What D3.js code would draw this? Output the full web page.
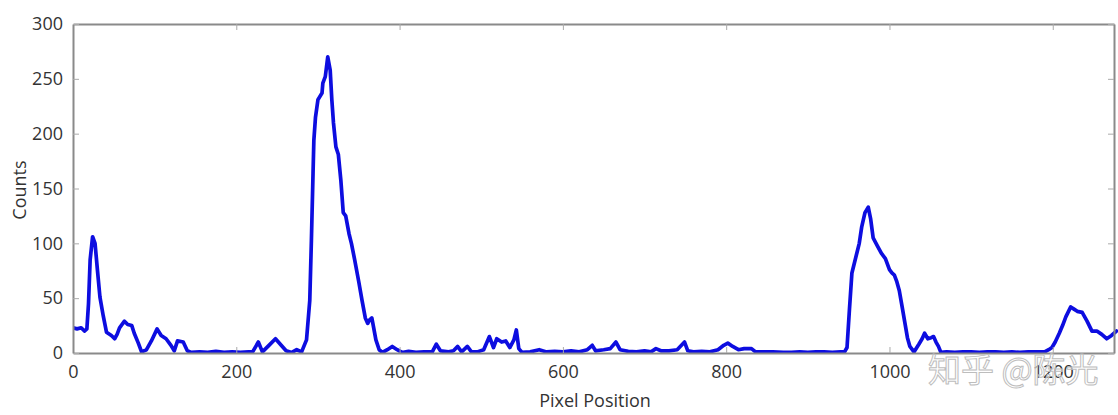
<!DOCTYPE html>
<html>
<head>
<meta charset="utf-8">
<script src="https://cdn.jsdelivr.net/npm/d3@7"></script>
<style>
  html, body { margin: 0; padding: 0; background: #fff; }
  svg { display: block; }
</style>
</head>
<body>
<svg id="chart" width="1118" height="415"></svg>
<script>
const positions = [0,5,10,14,17,19,21,24,27,30,33,37,41,47,51,54,57,63,67,72,75,80,84,90,96,103,108,114,120,124,128,135,140,145,155,165,175,185,195,205,215,220,227,232,240,248,255,261,268,274,280,286,290,292,294,295,297,300,305,306,309,312,315,317,319,322,325,328,331,334,338,341,345,350,354,358,361,363,366,368,371,375,379,385,391,397,403,411,420,430,440,445,450,460,466,471,476,483,488,495,503,510,515,519,525,530,535,540,543,546,550,560,571,580,590,600,610,620,630,636,640,650,658,665,670,680,690,700,708,714,720,730,740,749,753,760,770,780,790,797,802,808,815,822,831,836,845,857,870,880,890,900,910,920,930,940,945,948,951,954,960,963,966,970,974,977,980,985,990,995,1000,1003,1006,1009,1012,1016,1019,1022,1025,1030,1036,1040,1043,1047,1051,1054,1057,1060,1063,1070,1080,1090,1100,1110,1120,1130,1140,1150,1160,1170,1180,1190,1195,1199,1203,1208,1212,1216,1222,1226,1230,1236,1242,1248,1254,1260,1266,1272,1278];
const counts = [23,22,23,20,22,45,85,106,100,75,51,34,19,16,13,17,23,29,26,25,18,9,1,3,11,22,16,13,7,2,11,10,2,0.5,1,0.5,1.5,0.5,1,0.5,1,1,10,1,7,13,7,2,0.5,3,1,12,48,103,164,194,215,231,237,246,252,270,258,231,210,188,181,158,128,125,109,100,85,65,48,32,27,30,32,24,12,3,0.5,3,6,3,0.5,1.5,0.5,1,1,8,2,1,2,6,1,6,1,1,3,15,5,13,10,11,5,12,21,4,0.5,1,3,1,1.5,1,2,1,3,7,2,3,4,10,3,1.5,1,2,1,4,2,2,3,10,2,1,1.5,1,3,7,9,6,3,4,4,1,1,1,0.5,0.5,1,0.5,1,1,0.5,1,1,5,40,73,91,100,115,128,133,122,105,98,91,86,76,73,71,65,57,40,27,14,6,1,8,13,18,13,14,15,10,6,0.5,1,0.5,1,1,0.5,1,1,0.5,1,0.5,1,1,1,3,5,10,18,25,33,42,40,38,37,29,20,20,17,13,16,20];
const xTicks = [0,200,400,600,800,1000,1200];
const yTicks = [0,50,100,150,200,250,300];
const xTitle = "Pixel Position";
const yTitle = "Counts";
const watermark = "知乎 @陈光";

const svg = d3.select("#chart");
const plotL = 73, plotR = 1114, plotT = 24, plotB = 353;
const x = d3.scaleLinear().domain([0, 1275]).range([plotL, plotR]);
const y = d3.scaleLinear().domain([0, 300]).range([plotB, plotT]);

const font = "'Open Sans', 'DejaVu Sans', sans-serif";
const textColor = "#333";
const spineColor = "#8a8a8a";
const fmt = d3.format("d");

svg.append("rect").attr("width", 1118).attr("height", 415).attr("fill", "#fff");

svg.append("defs").append("clipPath").attr("id", "clip")
  .append("rect").attr("x", plotL).attr("y", plotT - 5).attr("width", plotR - plotL + 4).attr("height", plotB - plotT + 5);

// data line
const data = positions.map((p, i) => [p, counts[i]]);
svg.append("path")
  .datum(data)
  .attr("clip-path", "url(#clip)")
  .attr("fill", "none")
  .attr("stroke", "#0d0de0")
  .attr("stroke-width", 3.7)
  .attr("stroke-linejoin", "round")
  .attr("stroke-linecap", "round")
  .attr("d", d3.line().x(d => x(d[0])).y(d => y(d[1])));

// axes (ticks inward on all sides)
const bottomAxis = svg.append("g").attr("transform", `translate(0,${plotB})`)
  .call(d3.axisBottom(x).tickValues(xTicks).tickFormat(fmt).tickSizeInner(-6).tickSizeOuter(0).tickPadding(12));
const topAxis = svg.append("g").attr("transform", `translate(0,${plotT})`)
  .call(d3.axisTop(x).tickValues(xTicks).tickSizeInner(-6).tickSizeOuter(0).tickFormat(""));
const leftAxis = svg.append("g").attr("transform", `translate(${plotL},0)`)
  .call(d3.axisLeft(y).tickValues(yTicks).tickFormat(fmt).tickSizeInner(-6).tickSizeOuter(0).tickPadding(10));
const rightAxis = svg.append("g").attr("transform", `translate(${plotR},0)`)
  .call(d3.axisRight(y).tickValues(yTicks).tickSizeInner(-6).tickSizeOuter(0).tickFormat(""));

[bottomAxis, topAxis, leftAxis, rightAxis].forEach(g => {
  g.select(".domain").attr("stroke", spineColor).attr("stroke-width", 2);
  g.selectAll(".tick line").attr("stroke", "#aaa").attr("stroke-width", 1);
  g.selectAll(".tick text").attr("fill", textColor).style("font-family", font).style("font-size", "18px");
});
bottomAxis.selectAll(".tick text").attr("dy", "0.71em");
leftAxis.selectAll(".tick text").attr("dy", "0.32em");

// axis titles
svg.append("text")
  .attr("x", 595).attr("y", 407)
  .attr("text-anchor", "middle")
  .attr("fill", textColor)
  .style("font-family", font).style("font-size", "18px")
  .text(xTitle);
svg.append("text")
  .attr("transform", "translate(26,190) rotate(-90)")
  .attr("text-anchor", "middle")
  .attr("fill", textColor)
  .style("font-family", font).style("font-size", "18px")
  .text(yTitle);

// watermark (overlaps the last tick label, as in the reference)
svg.append("text")
  .attr("x", 928).attr("y", 382)
  .attr("fill", "rgba(255,255,255,0.5)")
  .attr("stroke", "#bdbdbd")
  .attr("stroke-width", 1)
  .style("font-family", "'Noto Sans CJK SC', sans-serif")
  .style("font-size", "33px")
  .text(watermark);
</script>
</body>
</html>
